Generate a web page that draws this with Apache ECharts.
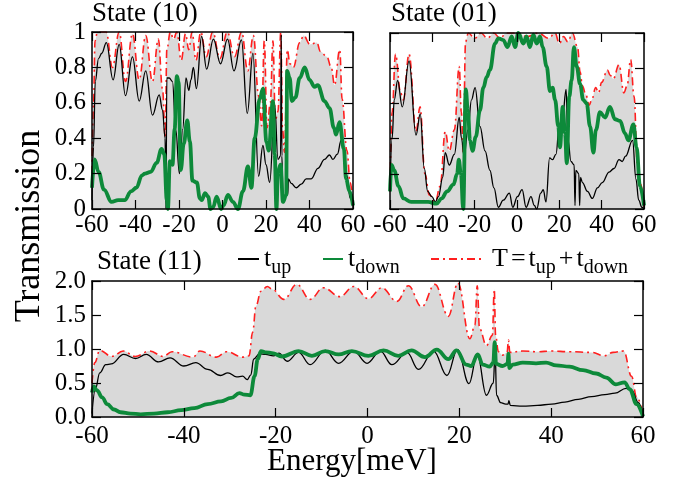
<!DOCTYPE html>
<html>
<head>
<meta charset="utf-8">
<script src="https://cdn.jsdelivr.net/npm/echarts@6/dist/echarts.min.js"></script>
<style>
html,body{margin:0;padding:0;background:#fff;}
#chart{width:684px;height:485px;}
</style>
</head>
<body>
<div id="chart"></div>
<script>
// ---------- data (energy [meV], transmission) ----------
const panelTitles = ['State (10)', 'State (01)', 'State (11)'];

const s10Up = [[-60,0.05],[-59.3,0.35],[-58.5,0.72],[-57,0.85],[-55.5,0.88],[-53.4,0.94],[-50.3,0.73],[-47.5,0.93],[-44.6,0.64],[-41.4,0.86],[-38.3,0.61],[-35.3,0.78],[-32.2,0.53],[-29.1,0.645],[-27.6,0.56],[-26.4,0.4],[-26.0,0.0],[-25.6,0.74],[-24.5,0.74],[-23.0,0.72],[-21.5,0.45],[-19.8,0.2],[-18.3,0.45],[-16.8,0.74],[-15.5,0.67],[-14.5,0.73],[-13.4,0.80],[-12.0,0.68],[-9.6,0.975],[-7.3,0.79],[-4.2,0.96],[-0.9,0.82],[2.3,0.96],[5.3,0.78],[8.7,0.955],[11.4,0.54],[14.0,0.88],[16.6,0.185],[18.6,0.36],[20.0,0.25],[21.7,0.15],[24.0,0.59],[25.5,0.28],[26.7,0.30],[27.0,0.985],[27.3,0.30],[27.8,0.06],[29.2,0.08],[30.0,0.08],[30.3,0.17],[31.6,0.145],[33.9,0.12],[36.2,0.14],[38.5,0.17],[40.8,0.17],[43.9,0.23],[46.9,0.28],[49.2,0.305],[50.8,0.28],[52.8,0.31],[54.6,0.39],[55.5,0.36],[57.2,0.19],[58.7,0.06],[60,0.02]];
const s10Down = [[-60,0.12],[-58.8,0.28],[-57,0.21],[-54.5,0.11],[-51,0.04],[-48,0.05],[-45,0.05],[-42,0.10],[-39.6,0.12],[-37,0.19],[-35.7,0.2],[-33,0.21],[-30.3,0.26],[-28,0.34],[-26.8,0.31],[-25.6,0.05],[-25.1,0.0],[-24.2,0.27],[-23,0.25],[-22,0.45],[-21,0.75],[-20.2,0.72],[-19.2,0.22],[-17.8,0.37],[-16.2,0.50],[-15,0.38],[-13.8,0.16],[-11.8,0.15],[-10.4,0.06],[-9.6,0.05],[-8,0.09],[-6.6,0.07],[-5.5,0.0],[-4.3,0.01],[-2.7,0.07],[-0.6,0.0],[0.5,0.02],[2.5,0.08],[4.8,0.04],[7.1,0.0],[9.4,0.10],[11.7,0.24],[13.3,0.12],[14.8,0.40],[17.1,0.62],[18.6,0.68],[20.2,0.38],[21.2,0.33],[23.2,0.61],[24.0,0.31],[24.8,0.0],[25.5,0.21],[26.7,0.25],[27.8,0.04],[29.3,0.08],[29.7,0.78],[30.9,0.74],[31.9,0.61],[33.5,0.63],[35.5,0.74],[37.8,0.80],[40,0.73],[42.3,0.69],[43.8,0.70],[46.9,0.61],[49.2,0.57],[51.2,0.46],[52.2,0.42],[53.8,0.49],[55.8,0.34],[56.8,0.17],[58.4,0.10],[60,0.02]];
const s10Tot = [[-60,0.2],[-59.3,0.6],[-58.6,0.95],[-57.5,1.0],[-55.5,1.0],[-53.5,1.0],[-50.6,0.8],[-47.5,1.0],[-44.6,0.72],[-41.4,0.99],[-38.3,0.73],[-35.3,0.98],[-32.2,0.72],[-29.5,0.96],[-27.6,0.68],[-26.3,0.4],[-25.6,0.9],[-24,1.0],[-22.5,0.96],[-21,1.0],[-19,0.84],[-17,0.99],[-15.5,0.9],[-14,1.0],[-12.2,0.84],[-10,1.0],[-7.5,0.86],[-4.5,1.0],[-1.2,0.85],[2.2,1.0],[5.5,0.86],[8.8,1.0],[11.6,0.78],[14.2,0.98],[16.6,0.64],[18,0.47],[19.2,0.95],[20.5,0.46],[22,0.6],[23.2,0.95],[24.3,0.5],[25.5,0.55],[26.8,1.0],[27.6,0.45],[28.5,0.32],[29.8,0.9],[31,0.82],[32.6,0.8],[35.5,0.94],[37.3,0.98],[40.2,0.93],[43.4,0.94],[45,0.89],[48,0.86],[50,0.8],[51.5,0.7],[53.9,0.9],[55,0.62],[57.2,0.33],[58.7,0.15],[60,0.02]];

const s01Up = [[-60,0.1],[-59,0.4],[-58,0.62],[-56.4,0.73],[-54.2,0.58],[-51,0.84],[-47.7,0.42],[-45.7,0.54],[-43.8,0.23],[-42.2,0.1],[-40.2,0.07],[-38.6,0.04],[-37.1,0.07],[-35.1,0.18],[-33.9,0.32],[-32,0.25],[-29.6,0.31],[-27.3,0.52],[-26.2,0.4],[-25,0.3],[-23.2,0.45],[-21.5,0.62],[-19.8,0.69],[-17.5,0.47],[-15.1,0.33],[-12.8,0.22],[-10.9,0.12],[-8.8,0.01],[-6.5,0.05],[-3.6,0.09],[-2,0.01],[0.2,0.07],[2.4,0.11],[4.3,0.01],[6.6,0.07],[8.2,0.02],[9.3,0.0],[11.2,0.09],[12.4,0.11],[13.7,0.04],[15.4,0.29],[16.8,0.28],[18.4,0.31],[20,0.48],[21.6,0.53],[23.2,0.68],[24,0.4],[25.5,0.27],[27,0.25],[27.4,0.02],[27.8,0.22],[29.2,0.2],[29.6,0.02],[30,0.18],[30.9,0.15],[33.3,0.10],[35.6,0.06],[38,0.12],[40.3,0.15],[43.5,0.21],[45.8,0.23],[48.2,0.28],[49.7,0.27],[51.3,0.30],[54.6,0.39],[56.2,0.17],[57.5,0.05],[59,0.01],[60,0.0]];
const s01Down = [[-60,0.1],[-59.3,0.25],[-58,0.22],[-56,0.13],[-53.7,0.06],[-50,0.04],[-46,0.04],[-42,0.04],[-38,0.03],[-35.6,0.06],[-33,0.1],[-30,0.14],[-28.3,0.2],[-27.5,0.28],[-26.5,0.2],[-25.4,0.0],[-24.2,0.68],[-23.2,0.56],[-22.2,0.39],[-21,0.33],[-19.5,0.41],[-17.5,0.56],[-15.9,0.69],[-14.3,0.75],[-12.8,0.79],[-10.4,0.94],[-8.8,0.97],[-6.5,0.96],[-4.5,0.92],[-2.5,0.98],[-0.9,0.92],[0.6,1.0],[3,0.94],[4.5,0.98],[6.1,0.92],[7.7,0.99],[9.3,0.94],[10.9,0.98],[12.1,0.92],[14,0.81],[15.6,0.67],[16.8,0.69],[18,0.62],[19.5,0.47],[20.3,0.35],[21.6,0.58],[22.7,0.43],[23.5,0.26],[24.7,0.64],[25.8,0.73],[26.9,0.92],[28.2,0.81],[29.8,0.71],[31.3,0.62],[32.9,0.60],[34.5,0.47],[36.1,0.32],[37.3,0.45],[39.2,0.55],[41.6,0.52],[43.9,0.58],[46.3,0.51],[48.7,0.50],[51,0.43],[52.6,0.39],[55,0.48],[56.5,0.35],[58.1,0.13],[60,0.02]];
const s01Tot = [[-60,0.12],[-59,0.55],[-57.4,0.88],[-55,0.66],[-53.7,0.62],[-51,0.88],[-47.7,0.44],[-45.8,0.58],[-43.5,0.2],[-41.4,0.08],[-38.6,0.04],[-36.3,0.13],[-33.9,0.44],[-32,0.33],[-29.6,0.45],[-27.3,0.81],[-26.3,0.55],[-25.4,0.32],[-24.3,0.95],[-23,1.0],[-20,0.97],[-17,1.0],[-14,0.97],[-11,1.0],[-8,0.97],[-5,1.0],[0,1.0],[5,0.98],[10,1.0],[15,0.97],[18,1.0],[20,0.94],[22,0.98],[24,0.95],[26.2,1.0],[28.6,0.92],[29.8,0.78],[30.9,0.70],[32.5,0.65],[34.1,0.59],[35.3,0.62],[37.2,0.69],[38.5,0.66],[40,0.72],[42.7,0.79],[44,0.76],[45.5,0.74],[48.2,0.82],[50.5,0.66],[52,0.7],[53.7,0.85],[55.3,0.64],[56.9,0.25],[58.4,0.14],[60,0.01]];

const s11Up = [[-60,0.05],[-59.3,0.4],[-58.3,0.65],[-57,0.77],[-55.8,0.78],[-53.1,0.92],[-50.5,0.86],[-48.2,0.92],[-45.5,0.81],[-43,0.87],[-40,0.75],[-37.4,0.80],[-34.8,0.70],[-32,0.61],[-30.4,0.65],[-28.5,0.59],[-27.2,0.60],[-26.2,0.55],[-25.4,0.62],[-24.8,0.85],[-23.5,0.93],[-22.2,0.92],[-20.5,0.90],[-19.3,0.94],[-17.5,0.82],[-15,0.95],[-12.5,0.77],[-9.2,0.98],[-6.3,0.79],[-3,0.97],[-0.1,0.79],[2.8,0.97],[5.3,0.77],[8.6,0.95],[11.1,0.70],[14.4,0.97],[17.3,0.61],[19.6,0.99],[22.1,0.49],[23.9,0.92],[25.9,0.32],[27.4,0.5],[27.8,0.98],[28.1,0.32],[29,0.21],[30.1,0.19],[30.6,0.19],[30.8,0.24],[31.1,0.17],[33.8,0.16],[37,0.17],[40.1,0.19],[43,0.22],[45.9,0.26],[48.8,0.30],[51.7,0.33],[53.9,0.35],[56.3,0.42],[57.5,0.40],[59,0.21],[60,0.02]];
const s11Down = [[-60,0.36],[-59.6,0.45],[-58.9,0.39],[-57.8,0.29],[-56.7,0.19],[-55.2,0.11],[-53.8,0.07],[-51.6,0.05],[-49.4,0.04],[-46.5,0.05],[-43.5,0.07],[-40.6,0.10],[-37.7,0.13],[-34.8,0.19],[-31.9,0.23],[-29.7,0.28],[-27.9,0.35],[-26.8,0.33],[-25.5,0.32],[-24.6,0.60],[-23.9,0.85],[-23.2,0.97],[-22.1,0.95],[-20.8,0.94],[-18.6,0.89],[-15,0.97],[-12.1,0.90],[-9.2,0.97],[-6.3,0.92],[-3.4,0.97],[0.2,0.90],[3.5,0.98],[6.7,0.90],[9.6,0.98],[12.5,0.88],[15.1,0.99],[17.6,0.85],[19.4,0.98],[21.5,0.77],[22.6,0.75],[24,0.92],[25.1,0.77],[26.6,0.74],[27.4,0.8],[27.7,1.1],[28,0.78],[29.4,0.75],[30.5,0.78],[30.7,0.93],[30.9,0.72],[31.6,0.77],[33.8,0.80],[36.7,0.79],[38.9,0.80],[41.1,0.76],[44,0.74],[46.9,0.69],[49.8,0.64],[52,0.58],[54.1,0.48],[56,0.51],[57.1,0.41],[58.6,0.19],[60,0.01]];
const s11Tot = [[-60,0.5],[-59.4,0.8],[-58.3,0.98],[-55.7,0.89],[-53.2,0.97],[-50.6,0.89],[-47.4,0.97],[-44.5,0.89],[-42.6,0.96],[-38,0.88],[-36.5,0.97],[-32.9,0.88],[-30.7,0.96],[-27.1,0.88],[-25.8,0.9],[-25,1.25],[-24.3,1.63],[-23.2,1.85],[-21.8,1.92],[-20.8,1.88],[-18.2,1.73],[-15.4,1.95],[-12.5,1.73],[-9.6,1.9],[-6,1.77],[-3,1.92],[0.2,1.74],[3.1,1.9],[6.4,1.7],[8.9,1.93],[11.8,1.62],[14.7,1.95],[17.6,1.48],[19.7,1.97],[22.3,1.15],[23.4,1.35],[23.9,1.93],[24.4,1.3],[25.9,1.05],[27.2,1.2],[27.6,1.88],[27.9,1.2],[28.5,0.96],[29.4,0.91],[30.4,0.95],[30.7,1.13],[31.0,0.95],[33.8,0.97],[37,0.96],[40,0.97],[44,0.96],[48.8,0.95],[51.5,0.90],[53.5,0.95],[55.8,0.97],[57.5,0.6],[58.6,0.3],[60,0.04]];

const xTicks = {min: -60, max: 60, interval: 20};
const yTopRange = {min: 0, max: 1, interval: 0.2};
const yBotRange = {min: 0, max: 2, interval: 0.5};

// ---------- chart ----------
const FONT = '"Liberation Serif", "Times New Roman", serif';
const RED = '#ff1f1f', GREEN = '#0d8a3a', GRAY = '#d9d9d9';
const chart = echarts.init(document.getElementById('chart'), null, {renderer: 'canvas'});

const grids = [
  {left: 92, top: 32, width: 261, height: 177},
  {left: 390, top: 33, width: 254, height: 176},
  {left: 92, top: 281, width: 551, height: 136}
];
const panels = [
  {up: s10Up, down: s10Down, tot: s10Tot, y: yTopRange, ylab: true, xm: 4, fmt: v => String(+v.toFixed(1))},
  {up: s01Up, down: s01Down, tot: s01Tot, y: yTopRange, ylab: false, xm: 4, fmt: v => String(+v.toFixed(1))},
  {up: s11Up, down: s11Down, tot: s11Tot, y: yBotRange, ylab: true, xm: 7, fmt: v => v.toFixed(1)}
];

const axLine = {show: true, onZero: false, lineStyle: {color: '#000', width: 1.5}};
const axTick = {show: true, inside: true, length: 9, lineStyle: {color: '#000', width: 1.2}};
const labStyle = {fontFamily: FONT, fontSize: 25, color: '#000'};

const xAxis = [], yAxis = [], series = [];
panels.forEach((p, i) => {
  xAxis.push({type: 'value', gridIndex: i, position: 'bottom', ...xTicks, z: 5,
    axisLine: axLine, axisTick: axTick, splitLine: {show: false},
    axisLabel: {...labStyle, margin: p.xm, formatter: v => String(v)}});
  xAxis.push({type: 'value', gridIndex: i, position: 'top', ...xTicks, z: 5,
    axisLine: axLine, axisTick: axTick, splitLine: {show: false}, axisLabel: {show: false}});
  yAxis.push({type: 'value', gridIndex: i, position: 'left', ...p.y, z: 5,
    axisLine: axLine, axisTick: axTick, splitLine: {show: false},
    axisLabel: {...labStyle, show: p.ylab, margin: 6, formatter: p.fmt}});
  yAxis.push({type: 'value', gridIndex: i, position: 'right', ...p.y, z: 5,
    axisLine: axLine, axisTick: axTick, splitLine: {show: false}, axisLabel: {show: false}});
  const common = {type: 'line', xAxisIndex: 2 * i, yAxisIndex: 2 * i, symbol: 'none',
    smooth: 0.4, smoothMonotone: 'x', animation: false, clip: true};
  series.push({...common, name: 'T', data: p.tot, z: 2,
    lineStyle: {color: RED, width: 1.6, type: [8, 4, 2, 4]}, itemStyle: {color: RED},
    areaStyle: {color: GRAY, opacity: 1}});
  series.push({...common, name: 't_up', data: p.up, z: 3,
    lineStyle: {color: '#000', width: 1.3}, itemStyle: {color: '#000'}});
  series.push({...common, name: 't_down', data: p.down, z: 4,
    lineStyle: {color: GREEN, width: 3.8}, itemStyle: {color: GREEN}});
});

const rich = {
  m: {fontFamily: FONT, fontSize: 26, color: '#000'},
  p: {fontFamily: FONT, fontSize: 26, color: '#000', padding: [0, 0, 0, 4]},
  o: {fontFamily: FONT, fontSize: 26, color: '#000', padding: [0, 3, 0, 3]},
  s: {fontFamily: FONT, fontSize: 20, color: '#000', padding: [18, 0, 0, 0]}
};
function mkLegend(name, left, w, fmt) {
  return {data: [name], left: left, top: 246, itemWidth: w, itemHeight: 14, padding: 0,
    selectedMode: false, formatter: () => fmt,
    itemStyle: {opacity: 0},
    textStyle: {fontFamily: FONT, fontSize: 26, color: '#000', rich: rich}};
}

chart.setOption({
  animation: false,
  backgroundColor: '#fff',
  grid: grids,
  xAxis: xAxis,
  yAxis: yAxis,
  series: series,
  title: [
    {text: panelTitles[0], left: 92, top: 0, padding: 0, textStyle: {fontFamily: FONT, fontSize: 27, fontWeight: 'normal', color: '#000'}},
    {text: panelTitles[1], left: 391, top: 0, padding: 0, textStyle: {fontFamily: FONT, fontSize: 27, fontWeight: 'normal', color: '#000'}},
    {text: panelTitles[2], left: 97, top: 248, padding: 0, textStyle: {fontFamily: FONT, fontSize: 27, fontWeight: 'normal', color: '#000'}}
  ],
  legend: [
    mkLegend('t_up', 237, 21, '{m|t}{s|up}'),
    mkLegend('t_down', 322, 20, '{m|t}{s|down}'),
    mkLegend('T', 430, 52, '{p|T}{o|=}{m|t}{s|up}{o|+}{m|t}{s|down}')
  ],
  graphic: [
    {type: 'text', x: 30, y: 226, rotation: Math.PI / 2,
      style: {text: 'Transmission', font: '36px ' + FONT, fill: '#000', align: 'center', verticalAlign: 'middle'}},
    {type: 'text', left: 267, top: 446,
      style: {text: 'Energy[meV]', font: '31px ' + FONT, fill: '#000'}}
  ]
});
</script>
</body>
</html>
